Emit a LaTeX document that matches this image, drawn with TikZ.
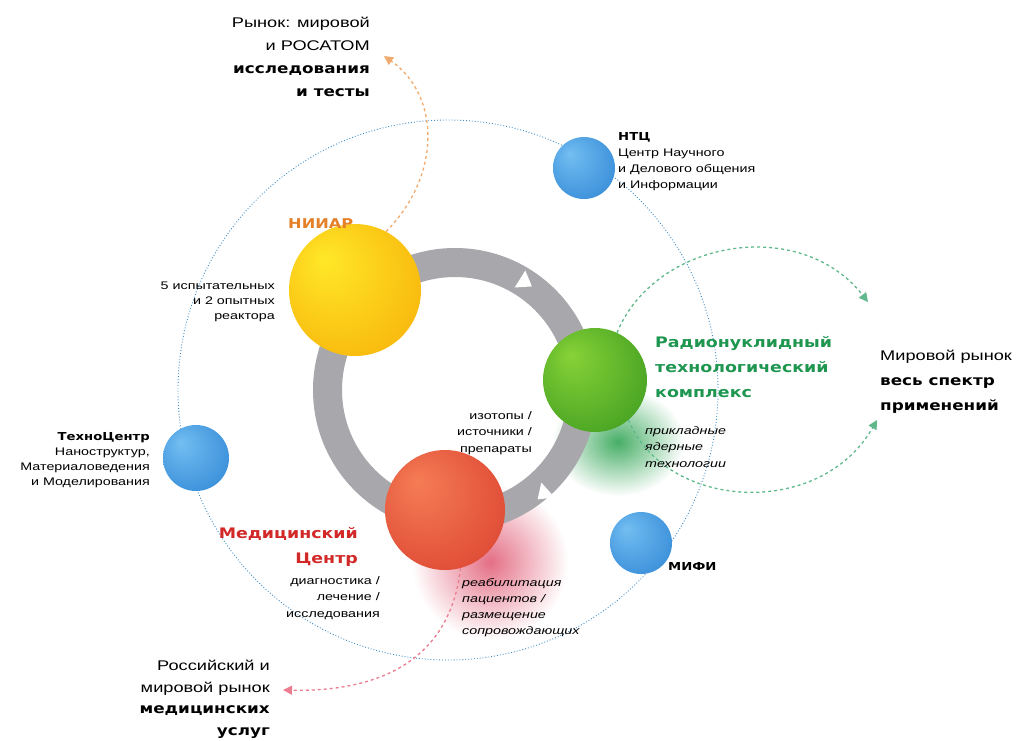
\documentclass[tikz,border=0pt]{standalone}
\usepackage{fontspec}
\setmainfont[FakeStretch=1.3]{Liberation Sans}
\newfontfamily\headfont[FakeStretch=1.2]{DejaVu Sans}
\usepackage{tikz}
\usetikzlibrary{arrows.meta,fadings}

\definecolor{ringgray}{RGB}{168,168,172}
\definecolor{orbitblue}{RGB}{60,140,200}
\definecolor{yin}{RGB}{255,232,40}
\definecolor{yout}{RGB}{245,160,0}
\definecolor{gin}{RGB}{135,210,55}
\definecolor{gout}{RGB}{40,140,25}
\definecolor{rin}{RGB}{245,125,85}
\definecolor{rout}{RGB}{212,50,38}
\definecolor{bin}{RGB}{115,190,242}
\definecolor{bout}{RGB}{30,120,205}
\definecolor{niiarorange}{RGB}{228,128,40}
\definecolor{rnkgreen}{RGB}{30,150,80}
\definecolor{medred}{RGB}{210,40,40}
\definecolor{flowor}{RGB}{240,170,110}
\definecolor{flowgr}{RGB}{95,185,140}
\definecolor{flowrd}{RGB}{235,125,145}
\definecolor{glowgreen}{RGB}{50,165,85}
\definecolor{glowred}{RGB}{225,95,120}

\pgfdeclareradialshading{yellowball}{\pgfpoint{-12bp}{12bp}}{color(0bp)=(yin);color(50bp)=(yout)}
\pgfdeclareradialshading{greenball}{\pgfpoint{-12bp}{12bp}}{color(0bp)=(gin);color(50bp)=(gout)}
\pgfdeclareradialshading{redball}{\pgfpoint{-12bp}{12bp}}{color(0bp)=(rin);color(50bp)=(rout)}
\pgfdeclareradialshading{blueball}{\pgfpoint{-12bp}{12bp}}{color(0bp)=(bin);color(50bp)=(bout)}
\tikzfading[name=glowfade, inner color=transparent!10, outer color=transparent!100]

\newcommand\headbold[1]{{\headfont\bfseries #1}}

\tikzset{
  ball/.style={circle,inner sep=0pt,shade},
  hub/.style={ball,shading=blueball,minimum size=62pt},
  orbit/.style={orbitblue,dotted,line width=0.9pt},
  flow/.style={dash pattern=on 3pt off 3pt,line width=1.3pt,-{Triangle[length=9pt,width=9pt]}},
  title/.style={font=\headfont\bfseries\fontsize{14.5}{25}\selectfont,inner sep=0pt},
  market/.style={font=\fontsize{14}{23}\selectfont,inner sep=0pt},
  note/.style={font=\fontsize{11}{16}\selectfont,inner sep=0pt},
}

\begin{document}
\begin{tikzpicture}[x=1pt,y=-1pt]
\useasboundingbox (0,0) rectangle (1017,740);
% soft glows
\fill[glowgreen,path fading=glowfade] (618,442) ellipse (66 and 54);
\fill[glowred,path fading=glowfade] (490,562) circle (78);
% orbit and ring
\draw[orbit] (448,390) circle (270);
\fill[ringgray,even odd rule] (455,390) circle (142) (455,390) circle (113);
\fill[white] (525.3,270.5) -- (531.9,286.4) -- (514.7,287.5) -- cycle;
\fill[white] (554.7,497.4) -- (537.6,499.4) -- (541.3,482.6) -- cycle;

% centres
\node[ball,shading=yellowball,minimum size=132pt] (niiar) at (355,290) {};
\node[ball,shading=greenball,minimum size=104pt] (rnk) at (595,380) {};
\node[ball,shading=redball,minimum size=120pt] (mc) at (445,510) {};
\node[hub] (ntc) at (584,168) {};
\node[hub,minimum size=66pt] (tc) at (196,458) {};
\node[hub] (mifi) at (641,543) {};

% markets
\coordinate (rynokend) at (384,56);
\coordinate (mirtop) at (868,302);
\coordinate (mirbot) at (877,420);
\coordinate (rosend) at (283,690);
\draw[flow,flowor] (niiar.62) .. controls (442,175) and (440,95) .. (rynokend);
\draw[flow,flowgr] (rnk.65) .. controls (655,240) and (800,215) .. (mirtop);
\draw[flow,flowgr] (rnk.-50) .. controls (665,510) and (820,520) .. (mirbot);
\draw[flow,flowrd] (mc.-75) .. controls (450,660) and (380,692) .. (rosend);

% labels (base = last line)
\node[market,anchor=base east,align=right] (rynoklbl) at (370,96)
  {Рынок: мировой\\и РОСАТОМ\\\headbold{исследования}\\\headbold{и тесты}};
\node[note,anchor=base west,align=left] (ntclbl) at (618,188)
  {\headbold{НТЦ}\\Центр Научного\\и Делового общения\\и Информации};
\node[title,niiarorange,anchor=base west,font=\headfont\bfseries\fontsize{13.5}{25}\selectfont] (niiarlbl) at (288,228) {НИИАР};
\node[note,anchor=base east,align=right,font=\fontsize{11}{15}\selectfont] (reactlbl) at (275,319)
  {5 испытательных\\и 2 опытных\\реактора};
\node[title,rnkgreen,anchor=base west,align=left] (rnklbl) at (655,397)
  {Радионуклидный\\технологический\\комплекс};
\node[note,anchor=base west,align=left,font=\itshape\fontsize{11}{16.5}\selectfont] (prikllbl) at (645,467)
  {прикладные\\ядерные\\технологии};
\node[market,anchor=base west,align=left,font=\fontsize{14}{25}\selectfont] (mirlbl) at (880,410)
  {Мировой рынок\\\headbold{весь спектр}\\\headbold{применений}};
\node[note,anchor=base east,align=right,font=\fontsize{11}{16.5}\selectfont] (izolbl) at (532,452)
  {изотопы /\\источники /\\препараты};
\node[note,anchor=base east,align=right,font=\fontsize{11}{15}\selectfont] (tclbl) at (150,485)
  {\headbold{ТехноЦентр}\\Наноструктур,\\Материаловедения\\и Моделирования};
\node[title,medred,anchor=base east,align=right] (mclbl) at (358,563)
  {Медицинский\\Центр};
\node[note,anchor=base east,align=right,font=\fontsize{11}{16.5}\selectfont] (diaglbl) at (380,617)
  {диагностика /\\лечение /\\исследования};
\node[note,anchor=base west,align=left,font=\itshape\fontsize{11}{15.7}\selectfont] (reablbl) at (462,634)
  {реабилитация\\пациентов /\\размещение\\сопровождающих};
\node[note,anchor=base west] (mifilbl) at (668,570) {\headbold{МИФИ}};
\node[market,anchor=base east,align=right,font=\fontsize{14}{21.5}\selectfont] (roslbl) at (270,735)
  {Российский и\\мировой рынок\\\headbold{медицинских}\\\headbold{услуг}};
\end{tikzpicture}
\end{document}
